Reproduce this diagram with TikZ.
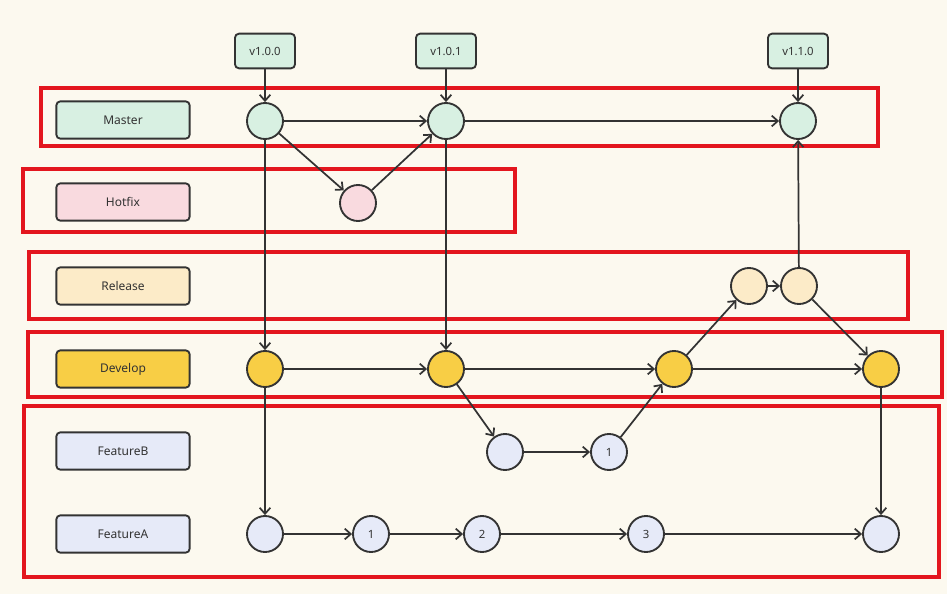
\documentclass[tikz,border=0pt]{standalone}
\usepackage{fontspec}
\setmainfont{Noto Sans}
\usetikzlibrary{arrows.meta}
\definecolor{bgcol}{HTML}{FCF9EF}
\definecolor{ink}{HTML}{333333}
\definecolor{lanered}{HTML}{E3161E}
\definecolor{mastercol}{HTML}{D8F0E2}
\definecolor{hotfixcol}{HTML}{F9DADF}
\definecolor{releasecol}{HTML}{FCEBC8}
\definecolor{developcol}{HTML}{F8CE45}
\definecolor{featurecol}{HTML}{E6EAF8}
\tikzset{
  lane/.style={draw=lanered, line width=2.4pt},
  lbl/.style={draw=ink, line width=1.4pt, rounded corners=3pt, minimum width=100pt,
    minimum height=28pt, font=\fontsize{9}{10}\selectfont, text=ink},
  tagbox/.style={draw=ink, line width=1.4pt, rounded corners=3pt, fill=mastercol,
    minimum width=45pt, minimum height=26pt, font=\fontsize{8.5}{10}\selectfont, text=ink},
  commit/.style={circle, draw=ink, line width=1.4pt, minimum size=27pt, inner sep=0pt,
    font=\fontsize{8.5}{10}\selectfont, text=ink},
  flow/.style={draw=ink, line width=1.3pt, -{Straight Barb[length=4.5pt,width=8pt,line width=1.3pt]}},
}
\begin{document}
\begin{tikzpicture}[x=0.75pt,y=-0.75pt]
  % canvas
  \fill[bgcol] (0,0) rectangle (947,594);
  \useasboundingbox (0,0) rectangle (947,594);

  % branch lanes
  \draw[lane] (41,88) rectangle (878,146);
  \draw[lane] (23,169) rectangle (515,232);
  \draw[lane] (29,252) rectangle (908,319);
  \draw[lane] (28,332) rectangle (942,397);
  \draw[lane] (24,406) rectangle (939,577);

  % branch names
  \node[lbl, fill=mastercol]  (lmaster)  at (123,120) {Master};
  \node[lbl, fill=hotfixcol]  (lhotfix)  at (123,202) {Hotfix};
  \node[lbl, fill=releasecol] (lrelease) at (123,286) {Release};
  \node[lbl, fill=developcol] (ldevelop) at (123,369) {Develop};
  \node[lbl, fill=featurecol] (lfeatb)   at (123,451) {FeatureB};
  \node[lbl, fill=featurecol] (lfeata)   at (123,534) {FeatureA};

  % version tags
  \node[tagbox] (t1) at (265,51) {v1.0.0};
  \node[tagbox] (t2) at (446,51) {v1.0.1};
  \node[tagbox] (t3) at (798,51) {v1.1.0};

  % commits
  \node[commit, fill=mastercol] (m1) at (265,121) {};
  \node[commit, fill=mastercol] (m2) at (446,121) {};
  \node[commit, fill=mastercol] (m3) at (798,121) {};

  \node[commit, fill=hotfixcol] (h1) at (358,203) {};

  \node[commit, fill=releasecol] (r1) at (749,286) {};
  \node[commit, fill=releasecol] (r2) at (799,286) {};

  \node[commit, fill=developcol] (d1) at (265,369) {};
  \node[commit, fill=developcol] (d2) at (446,369) {};
  \node[commit, fill=developcol] (d3) at (674,369) {};
  \node[commit, fill=developcol] (d4) at (881,369) {};

  \node[commit, fill=featurecol] (b0) at (505,452) {};
  \node[commit, fill=featurecol] (b1) at (609,452) {1};

  \node[commit, fill=featurecol] (a0) at (265,534) {};
  \node[commit, fill=featurecol] (a1) at (371,534) {1};
  \node[commit, fill=featurecol] (a2) at (482,534) {2};
  \node[commit, fill=featurecol] (a3) at (646,534) {3};
  \node[commit, fill=featurecol] (a4) at (881,534) {};

  % tags point at master commits
  \draw[flow] (t1) -- (m1);
  \draw[flow] (t2) -- (m2);
  \draw[flow] (t3) -- (m3);

  % master
  \draw[flow] (m1) -- (m2);
  \draw[flow] (m2) -- (m3);

  % hotfix
  \draw[flow] (m1) -- (h1);
  \draw[flow] (h1) -- (m2);

  % master into develop
  \draw[flow] (m1) -- (d1);
  \draw[flow] (m2) -- (d2);

  % develop
  \draw[flow] (d1) -- (d2);
  \draw[flow] (d2) -- (d3);
  \draw[flow] (d3) -- (d4);

  % feature A
  \draw[flow] (d1) -- (a0);
  \draw[flow] (a0) -- (a1);
  \draw[flow] (a1) -- (a2);
  \draw[flow] (a2) -- (a3);
  \draw[flow] (a3) -- (a4);
  \draw[flow] (d4) -- (a4);

  % feature B
  \draw[flow] (d2) -- (b0);
  \draw[flow] (b0) -- (b1);
  \draw[flow] (b1) -- (d3);

  % release
  \draw[flow] (d3) -- (r1);
  \draw[flow] (r1) -- (r2);
  \draw[flow] (r2) -- (m3);
  \draw[flow] (r2) -- (d4);
\end{tikzpicture}
\end{document}
